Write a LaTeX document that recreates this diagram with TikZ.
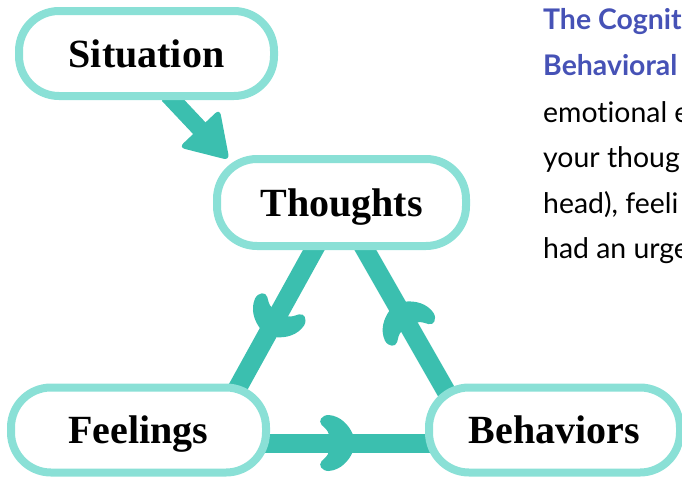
\documentclass[tikz,border=0pt]{standalone}
\usepackage{fontspec}
\setmainfont{Liberation Serif}
\newfontfamily\latofont[Ligatures=NoCommon]{Lato}
\usetikzlibrary{calc,decorations.markings}
\definecolor{pillc}{HTML}{8AE0D6}
\definecolor{arrc}{HTML}{3BBFAF}
\definecolor{bluec}{HTML}{4652B6}
\pgfdeclarelayer{bg}
\pgfsetlayers{bg,main}
\tikzset{
  pill/.style={draw=pillc, line width=8pt, fill=white, rounded corners=40pt,
    minimum width=255pt, minimum height=85pt, inner sep=0pt,
    text height=27pt, text depth=0pt, font=\fontsize{40}{40}\selectfont\bfseries},
  conn/.style={draw=arrc, line width=19pt},
  midhead/.style={postaction={decorate,decoration={markings,
    mark=at position #1 with {\fill[arrc] (2,0) -- (0,9)
      .. controls (-4,18) and (-12,27) .. (-24,28)
      .. controls (-31,28) and (-35,22) .. (-31,18)
      .. controls (-28,15) and (-25,13) .. (-24,9) -- (-24,-9)
      .. controls (-25,-13) and (-28,-15) .. (-31,-18)
      .. controls (-35,-22) and (-31,-28) .. (-24,-28)
      .. controls (-12,-27) and (-4,-18) .. (0,-9) -- cycle;}}}},
  endhead/.style={postaction={decorate,decoration={markings,
    mark=at position 1 with {\fill[arrc, rounded corners=6pt] (30,0) -- (-14,28) -- (-14,-28) -- cycle;}}}},
  txt/.style={anchor=base west, inner sep=0pt, font=\latofont\fontsize{28.4}{34}\selectfont},
  txtb/.style={txt, text=bluec, font=\latofont\bfseries\fontsize{28.4}{34}\selectfont}
}
\begin{document}
\begin{tikzpicture}[x=1pt,y=-1pt]
\clip (0,0) rectangle (682,479);
\node[pill] (sit) at (146.5,53.5) {Situation};
\node[pill, minimum width=249pt, minimum height=87pt] (th) at (341.5,202.5) {Thoughts};
\node[pill] (fe) at (138.5,430) {Feelings};
\node[pill, minimum width=251pt] (be) at (554.5,430) {Behaviors};
\node[txtb] (t1) at (543,29) {The Cognit};
\node[txtb] (t2) at (543,75) {Behavioral};
\node[txt] (t3) at (543,122) {emotional e};
\node[txt] (t4) at (543,167) {your thoug};
\node[txt] (t5) at (543,213) {head), feeli};
\node[txt] (t6) at (543,258) {had an urge};
\begin{pgfonlayer}{bg}
\coordinate (s0) at ($(sit.center)+(21.5,41.5)$);
\coordinate (s1) at ($(th.center)+(-132.5,-64)$);
\draw[conn, line width=17pt, endhead] (s0) -- (s1);
\draw[conn, midhead=0.58] ($(th.center)+(-23,39)$) -- ($(fe.center)+(93,-31)$);
\draw[conn, midhead=0.59] ($(be.center)+(-104,-31)$) -- ($(th.center)+(19,39)$);
\draw[conn, midhead=0.53] ($(fe.center)+(122,13)$) -- ($(be.center)+(-120,13)$);
\end{pgfonlayer}
\end{tikzpicture}
\end{document}
